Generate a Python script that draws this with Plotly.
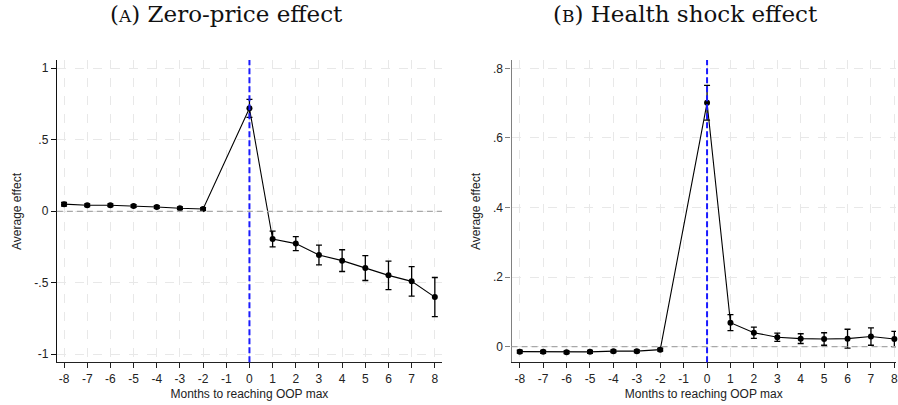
import plotly.graph_objects as go

months = [-8, -7, -6, -5, -4, -3, -2, 0, 1, 2, 3, 4, 5, 6, 7, 8]

zp_effect = [0.050, 0.042, 0.042, 0.037, 0.030, 0.021, 0.016, 0.720,
             -0.194, -0.226, -0.306, -0.345, -0.397, -0.448, -0.490, -0.600]
zp_err = [0.013, 0.010, 0.010, 0.010, 0.009, 0.009, 0.009, 0.063,
          0.055, 0.049, 0.069, 0.076, 0.087, 0.100, 0.103, 0.137]

hs_effect = [-0.0144, -0.015, -0.016, -0.015, -0.013, -0.013, -0.0086, 0.701,
             0.069, 0.040, 0.027, 0.023, 0.022, 0.023, 0.029, 0.022]
hs_err = [0.004, 0.004, 0.004, 0.004, 0.004, 0.004, 0.004, 0.050,
          0.023, 0.016, 0.012, 0.014, 0.018, 0.027, 0.025, 0.022]

x_ticks = list(range(-8, 9))
zp_yticks = [1, 0.5, 0, -0.5, -1]
zp_yticklabels = ["1", ".5", "0", "-.5", "-1"]
hs_yticks = [0.8, 0.6, 0.4, 0.2, 0]
hs_yticklabels = [".8", ".6", ".4", ".2", "0"]

W, H = 898, 405
fig = go.Figure()

def add_series(y, err, xa, ya):
    fig.add_trace(go.Scatter(
        x=months, y=y, xaxis=xa, yaxis=ya, mode="lines+markers",
        line=dict(color="black", width=1.1),
        marker=dict(color="black", size=6),
        error_y=dict(type="data", array=err, visible=True, color="black",
                     thickness=1.3, width=3),
        cliponaxis=False, showlegend=False))

add_series(zp_effect, zp_err, "x", "y")
add_series(hs_effect, hs_err, "x2", "y2")

font_ax = dict(family="Liberation Sans, Arial, sans-serif", size=12, color="#222")
grid = dict(showgrid=True, gridcolor="#e8e8e8", gridwidth=1, griddash="dash")

def xax(domain, rng, anchor):
    return dict(domain=domain, range=rng, anchor=anchor, tickvals=x_ticks,
                ticktext=[str(t) for t in x_ticks], ticks="outside", ticklen=5,
                tickcolor="#222", showline=True, linecolor="#222", linewidth=1.2,
                zeroline=False, tickfont=font_ax, ticklabeloverflow="allow",
                title=dict(text="Months to reaching OOP max", font=font_ax, standoff=4),
                **grid)

def yax(domain, rng, anchor, vals, labels, lc):
    return dict(domain=domain, range=rng, anchor=anchor, tickvals=vals, ticktext=labels,
                ticks="outside", ticklen=5, tickcolor=lc, showline=True, linecolor=lc,
                linewidth=1.3, zeroline=False, tickfont=font_ax, **grid)

ydom = [(405 - 362.3) / H, (405 - 60) / H]
fig.update_layout(
    width=W, height=H, margin=dict(l=0, r=0, t=0, b=0),
    paper_bgcolor="white", plot_bgcolor="white",
    xaxis=xax([57 / W, 443 / W], [-8.31, 8.31], "y"),
    yaxis=yax(ydom, [-1.056, 1.058], "x", zp_yticks, zp_yticklabels, "#111"),
    xaxis2=xax([512.7 / W, 1.0], [-8.35, 8.07], "y2"),
    yaxis2=yax(ydom, [-0.045, 0.824], "x2", hs_yticks, hs_yticklabels, "#808080"),
)

# reference lines
for xr, yr in [("x", "y"), ("x2", "y2")]:
    fig.add_shape(type="line", xref=xr + " domain", yref=yr, x0=0, x1=1, y0=0, y1=0,
                  line=dict(color="#a8a8a8", width=1.2, dash="6px,4px"), layer="above")
    fig.add_shape(type="line", xref=xr, yref=yr + " domain", x0=0, x1=0, y0=0, y1=1,
                  line=dict(color="#1a1aff", width=2, dash="6px,3px"), layer="above")

title_font = dict(family="DejaVu Serif, Liberation Serif, serif", size=23, color="#111")
fig.add_annotation(text="(<span style='font-size:17px'>A</span>) Zero-price effect",
                   x=227 / W, y=1 - 14 / H, xref="paper", yref="paper",
                   showarrow=False, font=title_font, xanchor="center", yanchor="middle")
fig.add_annotation(text="(<span style='font-size:17px'>B</span>) Health shock effect",
                   x=687.5 / W, y=1 - 14 / H, xref="paper", yref="paper",
                   showarrow=False, font=title_font, xanchor="center", yanchor="middle")

ytitle_font = dict(family="Liberation Sans, Arial, sans-serif", size=12, color="#222")
for xc in [17, 477]:
    fig.add_annotation(text="Average effect", x=xc / W, y=1 - 211 / H,
                       xref="paper", yref="paper", showarrow=False, textangle=-90,
                       font=ytitle_font, xanchor="center", yanchor="middle")

fig.write_html("out.html", post_script="document.body.style.margin='0';",
               config={"displayModeBar": False})
